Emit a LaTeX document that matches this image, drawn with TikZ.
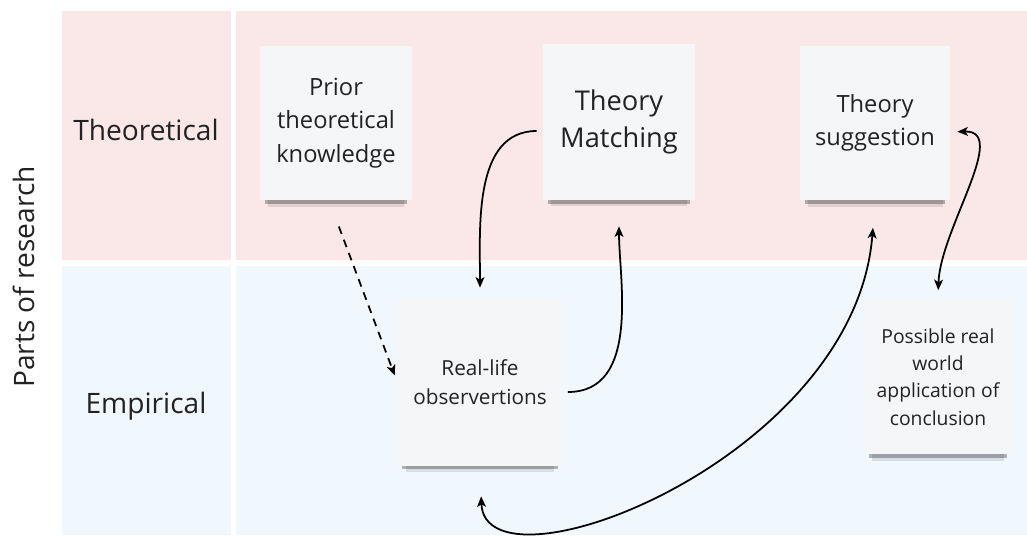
\documentclass[tikz,border=0pt]{standalone}
\usepackage{xcolor}
\usepackage{fontspec}
\setmainfont{Open Sans}
\usetikzlibrary{positioning}
\usetikzlibrary{arrows.meta,shadows}
\definecolor{theopink}{RGB}{250,231,232}
\definecolor{empblue}{RGB}{240,247,253}
\definecolor{notegray}{RGB}{245,246,248}
\definecolor{inkgray}{RGB}{34,34,34}
\tikzset{
  rowlabel/.style = {text=inkgray, font=\fontsize{16}{19}\selectfont},% row titles
  note/.style = {align=center, inner sep=0pt, text=inkgray, fill=notegray,
    minimum width=3.04cm, minimum height=3.08cm,
    drop shadow={shadow xshift=0pt, shadow yshift=-5pt, shadow scale=0.94,
      opacity=0.28, fill=black},
    drop shadow={shadow xshift=0pt, shadow yshift=-9pt, shadow scale=0.9,
      opacity=0.1, fill=black}},% sticky note with soft shadow
  note_big/.style = {note, font=\fontsize{15.5}{21}\selectfont},
  note_mid/.style = {note, font=\fontsize{13.5}{19}\selectfont},
  note_small/.style = {note, font=\fontsize{11}{15.6}\selectfont},
  link/.style = {->, >={Stealth[length=6pt, width=5pt, inset=1.5pt]},
    line width=1pt, black}% connector
}
\begin{document}
\begin{tikzpicture}[x=0.02cm, y=0.02cm]
\useasboundingbox (0,0) rectangle (1027,-535);
% background bands
\fill[theopink] (62,-11) rectangle (231,-260);
\fill[theopink] (236,-11) rectangle (1027,-260);
\fill[empblue] (62,-266) rectangle (231,-535);
\fill[empblue] (236,-266) rectangle (1027,-535);
% row labels
\node[rowlabel, rotate=90] (parts) at (24,-277) {Parts of research};
\node[rowlabel] (theo) at (146,-130) {Theoretical};
\node[rowlabel] (emp) at (146,-406) {Empirical};
% sticky notes
\node[note_mid] (prior) at (336,-123) {Prior\\theoretical\\knowledge};
\node[note_big, minimum height=3.12cm] (match) at (619,-122) {Theory\\Matching};
\node[note_mid, minimum width=3cm, minimum height=3.1cm] (sugg) at (875,-123)
  {Theory\\suggestion};
\node[note_small, font=\fontsize{11.8}{16.5}\selectfont,
  minimum width=3.3cm, minimum height=3.36cm] (real) at (480,-382)
  {Real-life\\observertions};
\node[note_small, minimum width=2.94cm, minimum height=3.1cm] (poss) at (938,-377)
  {Possible real\\world\\application of\\conclusion};
% connectors
\draw[link, dash pattern=on 4.5pt off 3.5pt, shorten <=0.56cm, shorten >=0.14cm]
  ([xshift=-0.14cm]prior.south) -- (real.west);
\draw[link, shorten <=0.12cm, shorten >=0.2cm]
  ([yshift=-0.18cm]match.west) to[out=180, in=90] (real.north);
\draw[link, shorten <=0.1cm, shorten >=0.52cm]
  ([yshift=-0.2cm]real.east) to[out=0, in=-90] (match.south);
\draw[link, <->, shorten <=0.6cm, shorten >=0.54cm]
  (real.south) .. controls (485,-600) and (855,-460) .. (sugg.south);
\draw[link, <->, shorten <=0.14cm, shorten >=0.18cm]
  ([yshift=-0.18cm]sugg.east) .. controls (1010,-130) and (940,-230) .. (poss.north);
\end{tikzpicture}
\end{document}
